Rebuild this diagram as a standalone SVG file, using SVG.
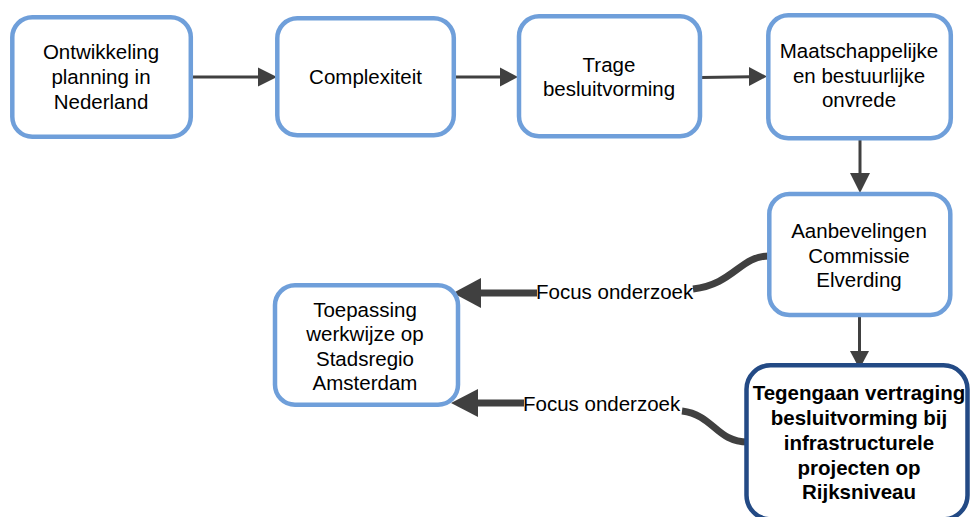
<svg xmlns="http://www.w3.org/2000/svg" width="971" height="517" viewBox="0 0 971 517">
  <style>
    .box { fill: #ffffff; stroke: #6f9fda; stroke-width: 4.5; }
    .box-main { fill: #ffffff; stroke: #234a85; stroke-width: 4.5; }
    .lbl { font-family: "Liberation Sans", Arial, sans-serif; font-size: 20.5px; fill: #000000; text-anchor: middle; }
    .lbl-b { font-family: "Liberation Sans", Arial, sans-serif; font-size: 20.5px; font-weight: bold; fill: #000000; text-anchor: middle; }
    .edge-label { font-family: "Liberation Sans", Arial, sans-serif; font-size: 20.5px; fill: #000000; }
    .thin { stroke: #404040; stroke-width: 3; fill: none; }
    .thick { stroke: #404040; stroke-width: 7; fill: none; }
    .head { fill: #404040; }
  </style>

  <rect width="971" height="517" fill="#ffffff"/>

  <!-- connectors -->
  <g id="connectors">
    <!-- top row, left to right -->
    <line class="thin" x1="192" y1="77" x2="260" y2="77"/>
    <polygon class="head" points="277,77 258,67.5 258,86.5"/>
    <line class="thin" x1="455" y1="77" x2="503" y2="77"/>
    <polygon class="head" points="518,77 500,67.5 500,86.5"/>
    <line class="thin" x1="701" y1="77.5" x2="751" y2="76.8"/>
    <polygon class="head" points="767,76.5 749,67 749,86"/>

    <!-- right column, downwards -->
    <line class="thin" x1="860" y1="139" x2="860" y2="176"/>
    <polygon class="head" points="860,193 850,173 870,173"/>
    <line class="thin" x1="859.5" y1="317" x2="859.5" y2="353"/>
    <polygon class="head" points="859.5,369 850,351 869,351"/>

    <!-- Aanbevelingen -> Toepassing -->
    <path class="thick" d="M769,256 C740,256 734,284 693,289"/>
    <line class="thick" x1="478" y1="293" x2="537" y2="293"/>
    <polygon class="head" points="453,293 481,278 481,308"/>
    <text class="edge-label" x="536" y="299">Focus onderzoek</text>

    <!-- Tegengaan -> Toepassing -->
    <path class="thick" d="M682,411 C714,415 716,442 748,442"/>
    <line class="thick" x1="476" y1="403" x2="524" y2="403"/>
    <polygon class="head" points="451,403 478,389 478,417"/>
    <text class="edge-label" x="523" y="411">Focus onderzoek</text>
  </g>

  <g id="node-ontwikkeling">
    <rect class="box" x="12.3" y="17.3" width="178.5" height="119.5" rx="20"/>
    <text class="lbl" x="101" y="59">Ontwikkeling</text>
    <text class="lbl" x="101" y="84">planning in</text>
    <text class="lbl" x="101" y="109">Nederland</text>
  </g>

  <g id="node-complexiteit">
    <rect class="box" x="277.3" y="18.3" width="176.5" height="117" rx="20"/>
    <text class="lbl" x="365.5" y="84">Complexiteit</text>
  </g>

  <g id="node-trage">
    <rect class="box" x="519" y="16.3" width="181" height="120" rx="20"/>
    <text class="lbl" x="609" y="72">Trage</text>
    <text class="lbl" x="609" y="96">besluitvorming</text>
  </g>

  <g id="node-onvrede">
    <rect class="box" x="768.3" y="15.3" width="182.5" height="123" rx="20"/>
    <text class="lbl" x="859" y="58">Maatschappelijke</text>
    <text class="lbl" x="859" y="83">en bestuurlijke</text>
    <text class="lbl" x="859" y="107">onvrede</text>
  </g>

  <g id="node-elverding">
    <rect class="box" x="769.3" y="194" width="181" height="121" rx="20"/>
    <text class="lbl" x="859" y="238">Aanbevelingen</text>
    <text class="lbl" x="859" y="262.5">Commissie</text>
    <text class="lbl" x="859" y="287">Elverding</text>
  </g>

  <g id="node-tegengaan">
    <rect class="box-main" x="746.5" y="365.3" width="221" height="154" rx="24"/>
    <text class="lbl-b" x="859" y="400">Tegengaan vertraging</text>
    <text class="lbl-b" x="859" y="425">besluitvorming bij</text>
    <text class="lbl-b" x="859" y="450">infrastructurele</text>
    <text class="lbl-b" x="859" y="474.5">projecten op</text>
    <text class="lbl-b" x="859" y="499">Rijksniveau</text>
  </g>

  <g id="node-toepassing">
    <rect class="box" x="275" y="285.3" width="183" height="119.5" rx="20"/>
    <text class="lbl" x="365" y="317">Toepassing</text>
    <text class="lbl" x="365" y="341">werkwijze op</text>
    <text class="lbl" x="365" y="366">Stadsregio</text>
    <text class="lbl" x="365" y="390">Amsterdam</text>
  </g>
</svg>
